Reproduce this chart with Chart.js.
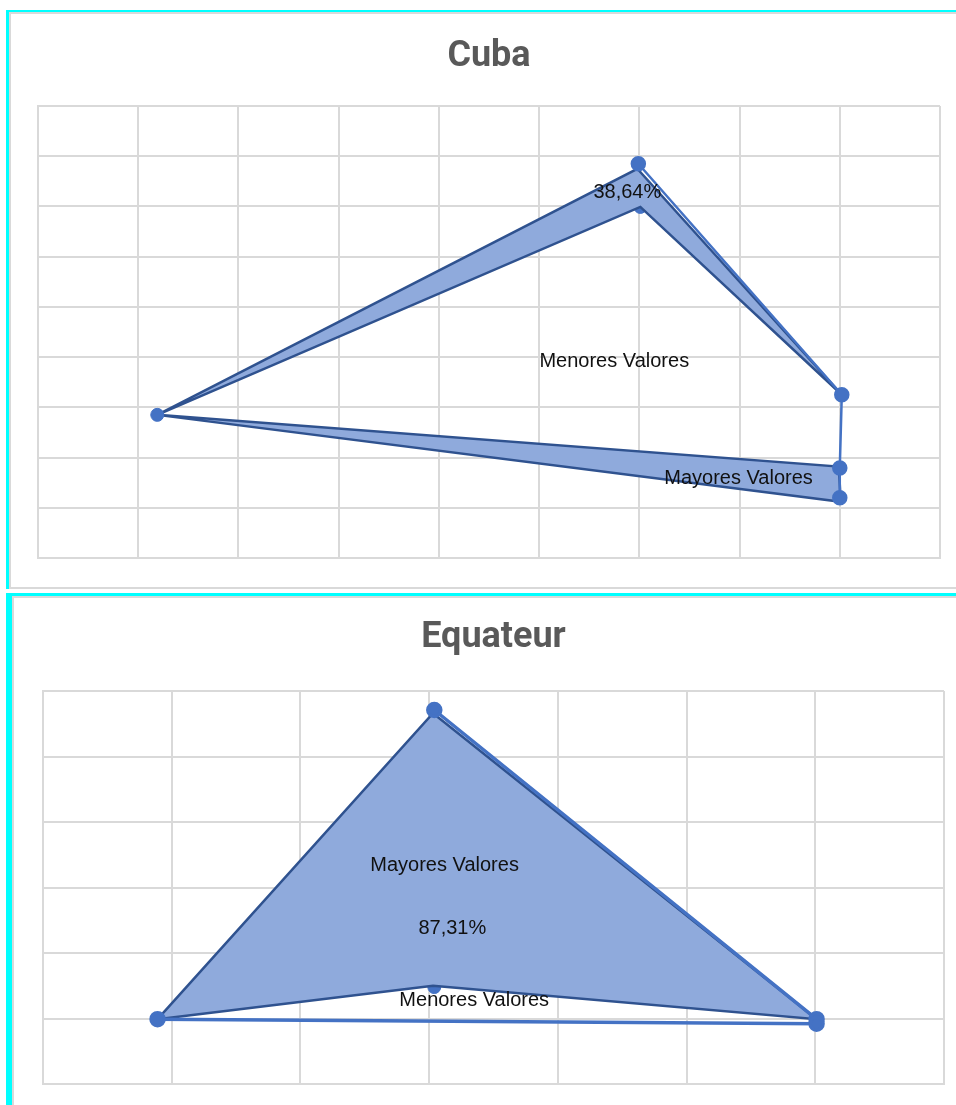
<!DOCTYPE html>
<html>
<head>
<meta charset="utf-8">
<script src="https://cdn.jsdelivr.net/npm/chart.js@4.4.0/dist/chart.umd.min.js"></script>
<style>
html,body{margin:0;padding:0;background:#fff;width:956px;height:1105px;overflow:hidden;position:relative}
.frame{position:absolute;box-sizing:border-box;border-style:solid;border-color:#00ffff;border-right-width:0;border-bottom-width:0}
#f1{left:6px;top:10px;width:950px;height:579px;border-top-width:2px;border-left-width:3px}
#f2{left:6px;top:593px;width:950px;height:512px;border-top-width:3px;border-left-width:6px}
.inner{position:absolute;left:0;top:0;right:0;bottom:0;border:2px solid #d9d9d9;border-right:none}
#f2 .inner{border-bottom:none}
canvas{position:absolute;z-index:2}
#c1{left:11px;top:14px}
#c2{left:14px;top:598px}
</style>
</head>
<body>
<div class="frame" id="f1"><div class="inner"></div></div>
<div class="frame" id="f2"><div class="inner"></div></div>
<canvas id="c1" width="945" height="573"></canvas>
<canvas id="c2" width="942" height="507"></canvas>
<script>
/* ============================================================
   DATA  (axis units: Cuba 9 x 9 cells, Equateur 7 x 6 cells)
   ============================================================ */
// Cuba - upper band shape
var cubaBandX=[1.19,5.98,8.02,6.01,1.19];
var cubaBandY=[2.85,7.75,3.25,6.99,2.85];
// Cuba - lower band shape
var cubaLowX=[1.19,7.99,8.01,1.19];
var cubaLowY=[2.85,1.82,1.12,2.85];
// Cuba - series line with markers
var cubaLineX=[5.99,8.02,8.00,8.00];
var cubaLineY=[7.85,3.25,1.79,1.20];
var cubaDotX=[1.19];
var cubaDotY=[2.85];
var cubaBackX=[6.01];
var cubaBackY=[6.99];

// Equateur - shape
var ecuShapeX=[0.89,3.03,6.01,3.03,0.89];
var ecuShapeY=[0.99,5.66,0.99,1.50,0.99];
// Equateur - series line with markers
var ecuLineX=[3.04,6.01,6.01,0.89];
var ecuLineY=[5.71,0.99,0.92,0.99];
var ecuBackX=[3.04];
var ecuBackY=[1.48];

var cubaTexts=['38,64%','Menores Valores','Mayores Valores'];
var ecuTexts=['Mayores Valores','87,31%','Menores Valores'];

/* ============================================================
   HELPERS
   ============================================================ */
function pts(xs,ys){return xs.map(function(x,i){return {x:x,y:ys[i]};});}

var LINE='#4472C4',EDGE='#2F528F',FILL='#8FAADC',GRID='#d9d9d9';

function shapeSet(xs,ys){
    return {data:pts(xs,ys),showLine:true,fill:'shape',backgroundColor:FILL,borderColor:EDGE,borderWidth:2.5,pointRadius:0,order:1};
}
function lineSet(xs,ys,w){
    return {data:pts(xs,ys),showLine:true,fill:false,borderColor:LINE,borderWidth:w||2.5,pointRadius:6.5,pointBackgroundColor:LINE,pointBorderColor:LINE,order:0};
}
function dotSet(xs,ys,order){
    return {data:pts(xs,ys),showLine:false,pointRadius:6.5,pointBackgroundColor:LINE,pointBorderColor:LINE,order:order};
}

/* text labels drawn at axis values */
var notePlugin={id:'notes',afterDatasetsDraw:function(chart,args,opts){
    var ctx=chart.ctx,sx=chart.scales.x,sy=chart.scales.y;
    ctx.save();
    ctx.font='20px "Liberation Sans", Arial, sans-serif';
    ctx.fillStyle='#111';ctx.textAlign='center';ctx.textBaseline='middle';
    (opts.items||[]).forEach(function(n){ctx.fillText(n.text,sx.getPixelForValue(n.x),sy.getPixelForValue(n.y));});
    ctx.restore();
}};

function axis(max){
    return {type:'linear',min:0,max:max,
        ticks:{display:false,stepSize:1},
        grid:{color:GRID,lineWidth:2,drawTicks:false},
        border:{display:true,color:GRID,width:2}};
}

function makeChart(id,title,xMax,yMax,datasets,notes,pad,titlePad){
    return new Chart(document.getElementById(id),{
        type:'scatter',
        data:{datasets:datasets},
        plugins:[notePlugin],
        options:{
            responsive:false,animation:false,
            layout:{padding:pad},
            scales:{x:axis(xMax),y:axis(yMax)},
            plugins:{
                legend:{display:false},tooltip:{enabled:false},
                title:{display:true,text:title,color:'#595959',
                    font:{family:'"Liberation Sans Narrow", Roboto, sans-serif',size:36,weight:'bold',lineHeight:1.2},
                    padding:titlePad},
                notes:{items:notes}
            }
        }
    });
}

/* ============================================================
   INIT
   ============================================================ */
makeChart('c1','Cuba',9,9,[
    lineSet(cubaLineX,cubaLineY),
    dotSet(cubaDotX,cubaDotY,0),
    shapeSet(cubaBandX,cubaBandY),
    shapeSet(cubaLowX,cubaLowY),
    dotSet(cubaBackX,cubaBackY,3)
],[
    {text:cubaTexts[0],x:5.88,y:7.27},
    {text:cubaTexts[1],x:5.75,y:3.92},
    {text:cubaTexts[2],x:6.99,y:1.59}
],{left:27,right:16,top:0,bottom:29},{top:21,bottom:27.8});

makeChart('c2','Equateur',7,6,[
    lineSet(ecuLineX,ecuLineY,3.5),
    shapeSet(ecuShapeX,ecuShapeY),
    dotSet(ecuBackX,ecuBackY,3)
],[
    {text:ecuTexts[0],x:3.12,y:3.33},
    {text:ecuTexts[1],x:3.18,y:2.38},
    {text:ecuTexts[2],x:3.35,y:1.28}
],{left:29,right:12,top:0,bottom:21},{top:18,bottom:31.8});
</script>
</body>
</html>
